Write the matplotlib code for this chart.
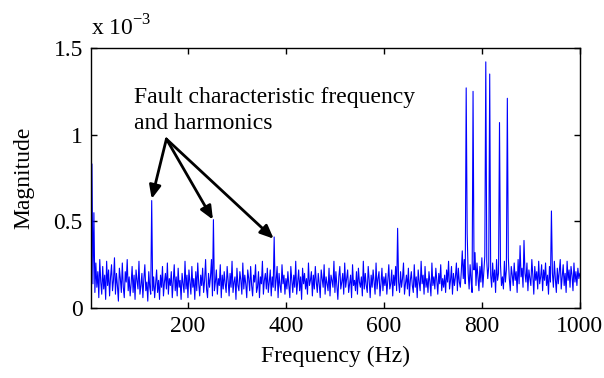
import numpy as np
import matplotlib
matplotlib.use("Agg")
import matplotlib.pyplot as plt
from matplotlib.ticker import FixedLocator, FuncFormatter

plt.rcParams['font.family'] = ['Liberation Serif', 'DejaVu Serif']
plt.rcParams['mathtext.fontset'] = 'custom'
plt.rcParams['mathtext.rm'] = 'Liberation Serif'

# spectrum: first bin at 4 Hz, 2 Hz resolution, magnitudes in units of 1e-5
f_start = 4.0
f_step = 2.0
mag_1e5 = [
    83, 14, 55, 9, 26, 12, 21, 6, 28, 15, 8, 24, 11, 19, 5, 27, 13, 22, 7, 18,
    25, 10, 16, 29, 8, 20, 13, 4, 23, 17, 9, 26, 12, 6, 21, 15, 28, 10, 18, 7,
    14, 24, 9, 19, 5, 22, 16, 11, 27, 8, 13, 20, 6, 17, 25, 10, 15, 4, 21, 12,
    8, 62, 10, 18, 6, 14, 22, 9, 16, 5, 19, 12, 24, 7, 15, 20, 11, 26, 8, 17,
    13, 21, 6, 15, 25, 10, 18, 7, 23, 12, 16, 5, 20, 14, 9, 27, 11, 19, 6, 22,
    15, 8, 24, 12, 17, 5, 21, 10, 26, 14, 7, 19, 13, 23, 9, 16, 28, 11, 6, 20,
    12, 18, 28, 7, 51, 10, 15, 22, 8, 17, 13, 25, 6, 19, 11, 21, 14, 9, 24, 16,
    7, 20, 12, 27, 9, 15, 18, 5, 23, 13, 10, 21, 16, 8, 26, 11, 19, 14, 6, 22,
    17, 10, 24, 13, 7, 19, 15, 25, 9, 12, 21, 6, 18, 14, 27, 8, 16, 20, 11, 23,
    9, 15, 22, 7, 18, 12, 41, 10, 16, 24, 6, 20, 13, 9, 25, 14, 19, 8, 17, 11,
    21, 13, 6, 24, 16, 9, 19, 12, 27, 8, 15, 22, 10, 18, 5, 23, 14, 20, 11, 17,
    8, 26, 13, 16, 21, 7, 19, 11, 24, 15, 9, 20, 14, 6, 22, 17, 12, 25, 8, 18,
    14, 10, 23, 7, 19, 16, 12, 27, 9, 21, 13, 5, 18, 24, 11, 15, 20, 8, 26, 12,
    17, 22, 9, 14, 19, 6, 25, 13, 16, 10, 21, 8, 23, 15, 12, 18, 7, 27, 11, 20,
    13, 9, 24, 16, 6, 19, 12, 22, 15, 8, 26, 11, 17, 21, 7, 14, 23, 10, 18, 13,
    20, 8, 16, 25, 11, 14, 22, 7, 19, 13, 24, 10, 46, 15, 9, 21, 12, 17, 26, 8,
    14, 19, 11, 23, 7, 16, 21, 13, 9, 25, 12, 18, 6, 22, 15, 10, 27, 14, 19, 8,
    24, 12, 17, 9, 21, 15, 7, 26, 13, 18, 11, 23, 16, 8, 20, 14, 25, 10, 17, 12,
    19, 9, 22, 15, 27, 11, 16, 24, 8, 20, 13, 18, 26, 10, 23, 15, 12, 21, 33, 17,
    28, 14, 127, 43, 20, 11, 25, 16, 9, 125, 22, 32, 13, 26, 18, 10, 24, 15, 29, 12,
    21, 30, 142, 27, 17, 24, 135, 19, 12, 26, 15, 22, 9, 28, 16, 20, 107, 25, 13, 18,
    11, 27, 15, 22, 121, 29, 17, 10, 24, 19, 13, 26, 16, 21, 9, 28, 14, 36, 18, 23,
    12, 39, 20, 15, 26, 10, 22, 17, 13, 28, 19, 8, 24, 16, 21, 11, 27, 14, 18, 25,
    10, 22, 16, 26, 13, 19, 8, 24, 15, 56, 20, 12, 27, 17, 9, 23, 14, 21, 28, 11,
    18, 25, 13, 20, 9, 27, 16, 22, 12, 24, 19, 10, 26, 15, 21, 13, 23, 17, 20,
]

mag = np.array(mag_1e5) * 1e-5
freq = f_start + f_step * np.arange(len(mag))

x_ticks = [200, 400, 600, 800, 1000]
y_ticks = [0, 0.5e-3, 1e-3, 1.5e-3]

# annotation: text anchor and arrow tips (fault freq and harmonics)
note_text = "Fault characteristic frequency\nand harmonics"
arrow_from = (156, 0.975e-3)
arrow_tips = [(126, 0.63e-3), (251, 0.51e-3), (375, 0.40e-3)]

fig = plt.figure(figsize=(6.04, 3.78), dpi=100)
ax = fig.add_axes([0.151, 0.185, 0.809, 0.688])

ax.plot(freq, mag, color=(0, 0, 1), lw=0.8)

ax.set_xlim(2.5, 1000)
ax.set_ylim(0, 1.5e-3)
ax.xaxis.set_major_locator(FixedLocator(x_ticks))
ax.yaxis.set_major_locator(FixedLocator(y_ticks))
ax.yaxis.set_major_formatter(FuncFormatter(lambda v, p: "%g" % round(v * 1e3, 2)))
ax.tick_params(direction='in', length=4, width=1, top=True, right=True,
               labelsize=17, pad=6)
for s in ax.spines.values():
    s.set_linewidth(1)

ax.text(0.0, 1.03, r"x 10$^{\mathrm{-3}}$", transform=ax.transAxes,
        ha='left', va='bottom', fontsize=17)

ax.set_xlabel("Frequency (Hz)", fontsize=17, labelpad=6)
ax.set_ylabel("Magnitude", fontsize=17, labelpad=14)

ax.text(89, 1.275e-3, note_text, fontsize=17, ha='left', va='top',
        linespacing=1.32)
for tip in arrow_tips:
    ax.annotate("", xy=tip, xytext=arrow_from,
                arrowprops=dict(arrowstyle='-|>,head_length=0.8,head_width=0.35',
                                color='black', lw=2, shrinkA=0, shrinkB=0))

fig.savefig("out.png", dpi=100)
